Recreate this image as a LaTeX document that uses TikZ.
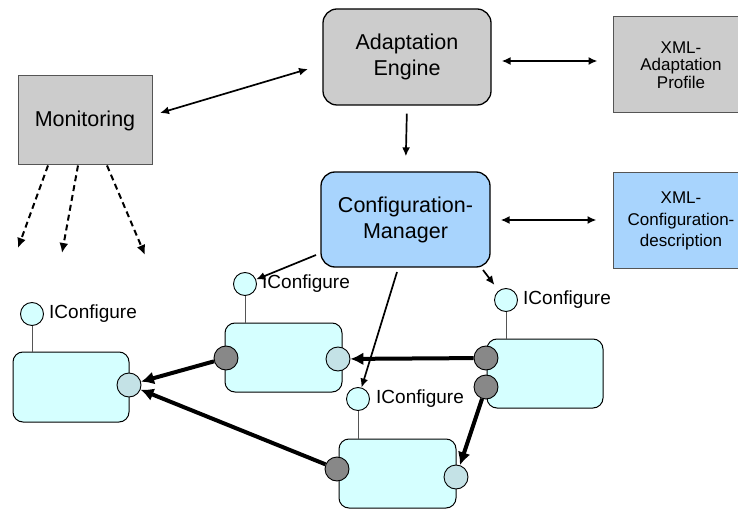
\documentclass[tikz,border=0pt]{standalone}
\usepackage{fontspec}
\setmainfont{Liberation Sans}
\usetikzlibrary{arrows.meta}
\definecolor{boxgray}{HTML}{CCCCCC}
\definecolor{boxblue}{HTML}{A8D4FD}
\definecolor{compcyan}{HTML}{D5FFFF}
\definecolor{socklight}{HTML}{C4E2E6}
\definecolor{sockdark}{HTML}{888888}
\definecolor{edgegray}{HTML}{555555}
\begin{document}
\begin{tikzpicture}[x=1pt,y=-1pt,
  bigbox/.style={draw=black, line width=1.3pt, rounded corners=14pt, align=center,
    font=\fontsize{21.5}{26}\selectfont, inner sep=0pt},
  plainbox/.style={draw=edgegray, line width=1pt, align=center, inner sep=0pt},
  comp/.style={draw=black, line width=1pt, rounded corners=10pt, fill=compcyan,
    minimum width=117pt, minimum height=69pt, inner sep=0pt},
  lolli/.style={circle, draw=black, line width=0.9pt, fill=compcyan, minimum size=23pt, inner sep=0pt},
  sockl/.style={circle, draw=black, line width=0.9pt, fill=socklight, minimum size=24pt, inner sep=0pt},
  sockd/.style={circle, draw=black, line width=0.9pt, fill=sockdark, minimum size=24pt, inner sep=0pt},
  stem/.style={draw=edgegray, line width=1pt},
  ilabel/.style={anchor=west, inner sep=0pt, font=\fontsize{19}{22}\selectfont},
  thinarrow/.style={line width=1.7pt, -{Latex[length=9pt,width=8pt]}},
  dblarrow/.style={line width=1.7pt, {Latex[length=9pt,width=8pt]}-{Latex[length=9pt,width=8pt]}},
  thickarrow/.style={line width=4pt, -{Latex[length=13pt,width=13pt]}},
  dasharrow/.style={line width=2pt, dash pattern=on 6pt off 4pt, -{Latex[length=10pt,width=9pt]}}
]
\clip (0,0) rectangle (738,510);
\fill[white] (0,0) rectangle (738,510);

% top boxes
\node[bigbox, fill=boxgray, minimum width=168pt, minimum height=96pt] (ae) at (407,57) {Adaptation\\Engine};
\node[bigbox, fill=boxblue, minimum width=169pt, minimum height=95pt] (cm) at (405.5,219.5) {Configuration-\\Manager};
\node[plainbox, fill=boxgray, minimum width=134pt, minimum height=89pt,
  font=\fontsize{21.5}{26}\selectfont] (mon) at (85,120.5) {Monitoring};
\node[plainbox, fill=boxgray, minimum width=136pt, minimum height=96pt,
  font=\fontsize{17}{17.5}\selectfont] (xap) at (681,65) {XML-\\Adaptation\\Profile};
\node[plainbox, fill=boxblue, minimum width=136pt, minimum height=96pt,
  font=\fontsize{17}{21.5}\selectfont] (xcd) at (681,221) {XML-\\Configuration-\\description};

% components
\node[comp, minimum width=116pt, minimum height=70pt] (c1) at (71,387) {};
\node[comp] (c2) at (283.5,357.5) {};
\node[comp, minimum width=116pt] (c3) at (545,373.5) {};
\node[comp] (c4) at (397.5,473.5) {};

% lollipops
\node[lolli] (l1) at (32,314) {};
\node[lolli] (l2) at (245,284) {};
\node[lolli] (l3) at (506,300) {};
\node[lolli] (l4) at (358,399) {};
\draw[stem] (l1.south) -- (l1.south |- c1.north);
\draw[stem] (l2.south) -- (l2.south |- c2.north);
\draw[stem] (l3.south) -- (l3.south |- c3.north);
\draw[stem] (l4.south) -- (l4.south |- c4.north);
\node[ilabel] (t1) at (49,314) {IConfigure};
\node[ilabel] (t2) at (262,284) {IConfigure};
\node[ilabel] (t3) at (523,300) {IConfigure};
\node[ilabel] (t4) at (376,399) {IConfigure};

% sockets
\node[sockl] (s1r) at (129,385) {};
\node[sockd] (s2l) at (226,358) {};
\node[sockl] (s2r) at (338,359) {};
\node[sockd] (s3a) at (486,358) {};
\node[sockd] (s3b) at (486,387) {};
\node[sockd] (s4l) at (337,469) {};
\node[sockl] (s4r) at (456,477) {};

% thick arrows
\draw[thickarrow] (s2l) -- (s1r);
\draw[thickarrow] (s4l) -- (s1r);
\draw[thickarrow] (s3a) -- (s2r);
\draw[thickarrow] (s3b) -- (s4r);

% thin arrows
\coordinate (monA) at (160,113);
\coordinate (aeA) at (308,69);
\draw[dblarrow] (monA) -- (aeA);
\draw[dblarrow, shorten <=10pt, shorten >=15pt] (ae.east |- 0,61) -- (xap.west |- 0,61);
\draw[dblarrow, shorten <=10pt, shorten >=16pt] (cm.east |- 0,220) -- (xcd.west |- 0,220);
\draw[thinarrow, shorten <=8pt, shorten >=15pt] (ae.south) -- (cm.north);

\coordinate (cmA) at (316,255);
\coordinate (cmB) at (397,272);
\coordinate (cmC) at (483,270);
\draw[thinarrow] (cmA) -- (l2);
\draw[thinarrow] (cmB) -- (l4);
\draw[thinarrow, shorten >=7pt] (cmC) -- (l3);

% dashed arrows from monitoring
\coordinate (d1) at (18,248);
\coordinate (d2) at (62,253);
\coordinate (d3) at (145,255);
\draw[dasharrow] (mon.south -| 48,0) -- (d1);
\draw[dasharrow] (mon.south -| 78,0) -- (d2);
\draw[dasharrow] (mon.south -| 107,0) -- (d3);
\end{tikzpicture}
\end{document}
